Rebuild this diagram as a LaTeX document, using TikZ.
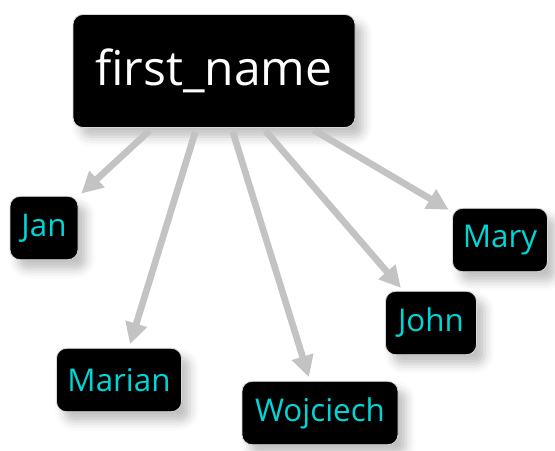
\documentclass[tikz,border=0pt]{standalone}
\usepackage{fontspec}
\setmainfont{Open Sans}
\usetikzlibrary{arrows.meta,shadows.blur}
\definecolor{leafcyan}{RGB}{0,214,214}
\definecolor{edgegrey}{RGB}{195,195,195}
\tikzset{
  box/.style={fill=black, draw=black!15, line width=0.6pt, rounded corners=7.5pt,
    inner sep=0pt,
    blur shadow={shadow xshift=6pt, shadow yshift=-7pt, shadow blur radius=7pt, shadow opacity=25}},
  rootbox/.style={box, text=white, font=\fontsize{36}{40}\selectfont,
    minimum width=211.5pt, minimum height=84.75pt},
  leafbox/.style={box, text=leafcyan, font=\fontsize{23.5}{28}\selectfont,
    minimum height=47.5pt},
  link/.style={draw=edgegrey, line width=5pt,
    -{Triangle[length=16pt,width=16pt]}, shorten >=3pt, shorten <=3pt}
}
\begin{document}
\begin{tikzpicture}[x=0.75pt,y=-0.75pt]
  \useasboundingbox (0,0) rectangle (555,450);
  % root and leaves
  \node[rootbox] (root) at (214,71) {first\_name};
  \node[leafbox, minimum width=51pt] (jan) at (44,228) {Jan};
  \node[leafbox, minimum width=93.75pt] (marian) at (119,380) {Marian};
  \node[leafbox, minimum width=117pt] (wojciech) at (320,413) {Wojciech};
  \node[leafbox, minimum width=68.25pt] (john) at (431,323) {John};
  \node[leafbox, minimum width=71.25pt] (mary) at (500,240) {Mary};
  % edges from the root to each leaf
  \draw[link] (root) -- (jan);
  \draw[link] (root) -- (marian);
  \draw[link] (root) -- (wojciech);
  \draw[link] (root) -- (john);
  \draw[link] (root) -- (mary);
\end{tikzpicture}
\end{document}
